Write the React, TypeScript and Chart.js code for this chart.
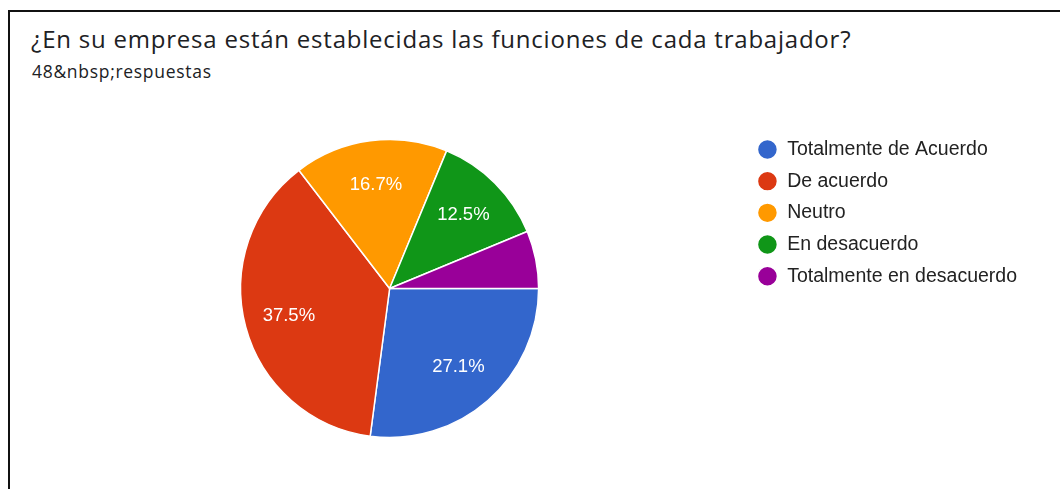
import React, { useEffect, useRef } from "react";
import { Chart, registerables } from "chart.js";

Chart.register(...registerables);

const categories = [
  "Totalmente de Acuerdo",
  "De acuerdo",
  "Neutro",
  "En desacuerdo",
  "Totalmente en desacuerdo",
];
const counts = [13, 18, 8, 6, 3];
const colors = ["#3366cc", "#dc3912", "#ff9900", "#109618", "#990099"];
const titleText = "¿En su empresa están establecidas las funciones de cada trabajador?";
const subtitleText = "48&nbsp;respuestas";

const sliceLabels = {
  id: "sliceLabels",
  afterDatasetsDraw(chart: any) {
    const ctx = chart.ctx;
    const meta = chart.getDatasetMeta(0);
    const data = chart.data.datasets[0].data as number[];
    const total = data.reduce((a, b) => a + b, 0);
    ctx.save();
    ctx.fillStyle = "#ffffff";
    ctx.font = '18.5px "Liberation Sans", Arial, sans-serif';
    ctx.textAlign = "center";
    ctx.textBaseline = "middle";
    meta.data.forEach((arc: any, i: number) => {
      const frac = data[i] / total;
      if (frac < 0.08) return;
      const p = arc.getProps(["x", "y", "startAngle", "endAngle", "outerRadius"], true);
      const mid = (p.startAngle + p.endAngle) / 2;
      const r = p.outerRadius * 0.7;
      const tx = p.x + Math.cos(mid) * r;
      const ty = p.y + Math.sin(mid) * r;
      ctx.fillText((frac * 100).toFixed(1) + "%", tx, ty);
    });
    ctx.restore();
  },
};

function PieChart() {
  const ref = useRef<HTMLCanvasElement>(null);
  useEffect(() => {
    if (!ref.current) return;
    const chart = new Chart(ref.current, {
      type: "pie",
      data: {
        labels: categories,
        datasets: [
          {
            data: counts,
            backgroundColor: colors,
            borderColor: "#ffffff",
            borderWidth: 1.5,
            radius: 149,
          } as any,
        ],
      },
      options: {
        animation: false,
        responsive: false,
        rotation: 90,
        layout: {
          padding: { top: 127.5, bottom: 39.5, left: 34, right: 33 },
        },
        plugins: {
          tooltip: { enabled: false },
          legend: {
            position: "right",
            align: "start",
            labels: {
              usePointStyle: true,
              pointStyle: "circle",
              boxHeight: 14.1,
              boxWidth: 20,
              pointStyleWidth: 20,
              padding: 12.2,
              color: "#222222",
              font: { size: 19.5, family: '"Liberation Sans", Arial, sans-serif' },
            },
          },
        },
      } as any,
      plugins: [sliceLabels],
    });
    return () => chart.destroy();
  }, []);
  return (
    <canvas
      ref={ref}
      width={1060}
      height={489}
      style={{ position: "absolute", left: 0, top: 0, width: 1060, height: 489 }}
    />
  );
}

export default function App() {
  return (
    <div
      style={{
        position: "fixed",
        left: 0,
        top: 0,
        width: 1060,
        height: 489,
        background: "#ffffff",
        overflow: "hidden",
      }}
    >
      <div
        style={{
          position: "absolute",
          left: 8,
          top: 10,
          width: 1200,
          height: 600,
          borderLeft: "2px solid #111",
          borderTop: "2px solid #111",
        }}
      />
      <div
        style={{
          position: "absolute",
          left: 31,
          top: 22.8,
          fontFamily: '"Open Sans", sans-serif',
          fontSize: 24,
          letterSpacing: "0.78px",
          lineHeight: "32.7px",
          color: "#202124",
          whiteSpace: "nowrap",
        }}
      >
        {titleText}
      </div>
      <div
        style={{
          position: "absolute",
          left: 32,
          top: 59.8,
          fontFamily: '"Open Sans", sans-serif',
          fontSize: 17.5,
          letterSpacing: "0.7px",
          lineHeight: "23.8px",
          color: "#202124",
          whiteSpace: "nowrap",
        }}
      >
        {subtitleText}
      </div>
      <PieChart />
    </div>
  );
}
